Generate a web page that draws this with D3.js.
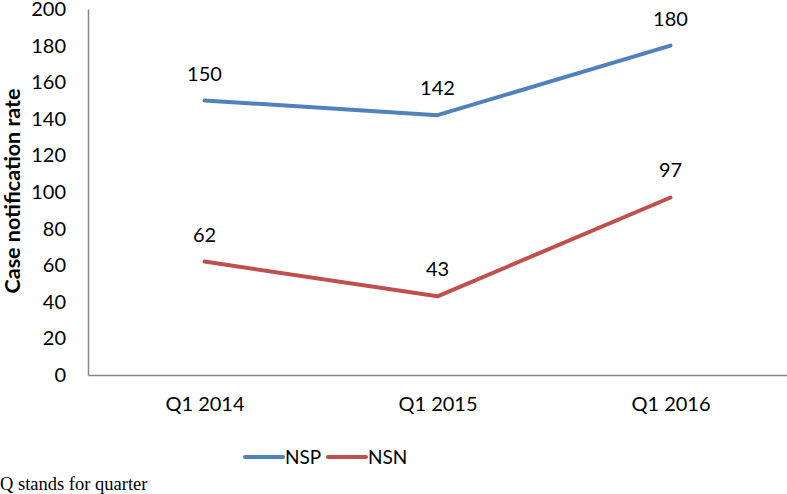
<!DOCTYPE html>
<html><head><meta charset="utf-8">
<script src="https://cdn.jsdelivr.net/npm/d3@7"></script>
<style>body{margin:0;background:#fff}svg{display:block}</style>
</head><body>
<script>
const categories = ["Q1 2014", "Q1 2015", "Q1 2016"];
const nspValues = [150, 142, 180];
const nsnValues = [62, 43, 97];
const yTicks = [0, 20, 40, 60, 80, 100, 120, 140, 160, 180, 200];
const seriesNames = ["NSP", "NSN"];
const seriesColors = ["#4F81BD", "#C0504D"];

const W = 787, H = 494;
const svg = d3.select("body").append("svg").attr("width", W).attr("height", H);
const font = "Lato, 'Open Sans', sans-serif";

const x = d3.scalePoint().domain(categories).range([88, 787]).padding(0.5);
const y = d3.scaleLinear().domain([0, 200]).range([375, 9]);

// axes
const yAxis = svg.append("g").attr("transform", "translate(88,0)")
  .call(d3.axisLeft(y).tickValues(yTicks).tickSize(0).tickPadding(22));
yAxis.select(".domain").attr("stroke", "#888").attr("stroke-width", 1.5);
yAxis.selectAll("text").attr("font-family", font).attr("font-size", 20).attr("fill", "#000");

const xAxis = svg.append("g").attr("transform", "translate(0,375)")
  .call(d3.axisBottom(x).tickSize(0).tickPadding(22));
xAxis.select(".domain").attr("stroke", "#888").attr("stroke-width", 1.5);
xAxis.selectAll("text").attr("font-family", font).attr("font-size", 20).attr("fill", "#000");

// y title
svg.append("text")
  .attr("transform", "translate(20,191) rotate(-90)")
  .attr("text-anchor", "middle")
  .attr("font-family", font).attr("font-weight", "bold").attr("font-size", 21.5)
  .text("Case notification rate");

const series = [nspValues, nsnValues];
const line = d3.line().x((d, i) => x(categories[i])).y(d => y(d));
series.forEach((vals, s) => {
  svg.append("path").datum(vals).attr("d", line)
    .attr("fill", "none").attr("stroke", seriesColors[s]).attr("stroke-width", 4)
    .attr("stroke-linejoin", "round").attr("stroke-linecap", "round");
  svg.selectAll(null).data(vals).enter().append("text")
    .attr("x", (d, i) => x(categories[i]))
    .attr("y", d => y(d) - 20)
    .attr("text-anchor", "middle")
    .attr("font-family", font).attr("font-size", 20)
    .text(d => d);
});

// legend
const legendX = [245, 328];
seriesNames.forEach((n, i) => {
  svg.append("line").attr("x1", legendX[i]).attr("x2", legendX[i] + 38)
    .attr("y1", 457).attr("y2", 457)
    .attr("stroke", seriesColors[i]).attr("stroke-width", 4).attr("stroke-linecap", "round");
  svg.append("text").attr("x", legendX[i] + 40).attr("y", 464)
    .attr("font-family", font).attr("font-size", 19).text(n);
});

svg.append("text").attr("x", 0).attr("y", 490)
  .attr("font-family", "'Liberation Serif', 'DejaVu Serif', serif").attr("font-size", 18.5)
  .text("Q stands for quarter");
</script>
</body></html>
